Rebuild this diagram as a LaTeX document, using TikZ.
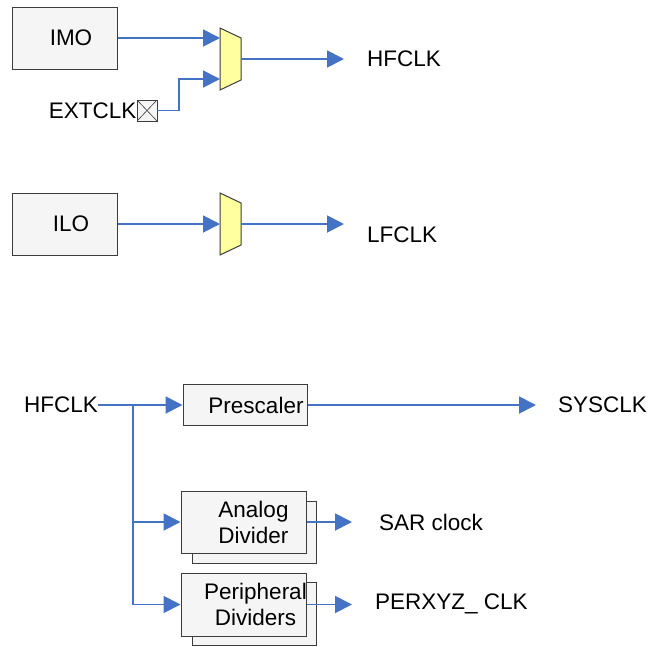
\documentclass[tikz,border=0pt]{standalone}
\usepackage{fontspec}
\setmainfont{Liberation Sans}
\usetikzlibrary{arrows.meta,positioning,calc}
\definecolor{wire}{RGB}{68,114,196}
\definecolor{boxgray}{RGB}{245,245,245}
\definecolor{muxyellow}{RGB}{255,255,160}
\definecolor{edgegray}{RGB}{60,60,60}

% mux symbol: name, centre x, centre y
\newcommand{\Mux}[3]{%
	\coordinate (#1) at (#2,#3);
	\draw[edgegray,fill=muxyellow,line width=1pt]
		($(#1)+(-10.5,-31)$) -- ($(#1)+(10.5,-21)$) -- ($(#1)+(10.5,21)$) -- ($(#1)+(-10.5,31)$) -- cycle;
	\coordinate (#1-out) at ($(#1)+(10.5,0)$);
}

\begin{document}
\begin{tikzpicture}[x=1pt,y=-1pt,% pixel coordinates, y downwards
		every node/.style={
			font=\fontsize{22.5}{26}\selectfont, % same size for every text
			inner sep=0pt
		},
		blk/.style={rectangle,draw=edgegray,fill=boxgray,line width=1pt},
		blktext/.style={align=center},
		wire/.style={draw=wire,line width=1.9pt,-{Triangle[length=17pt,width=17pt]}}
	]
	\useasboundingbox (0,0) rectangle (662,646);

	% clock sources
	\node[blk,minimum width=105pt,minimum height=62pt,label={[blktext,xshift=6.5pt]center:IMO}](IMO) at (64.5,38) {};
	\node[blk,minimum width=105pt,minimum height=62pt,label={[blktext,xshift=6.5pt]center:ILO}](ILO) at (64.5,224) {};
	\node[draw=edgegray,fill=boxgray,line width=0.8pt,minimum width=20pt,minimum height=21pt,
		path picture={\draw[edgegray,line width=0.6pt]
			(path picture bounding box.south west) -- (path picture bounding box.north east)
			(path picture bounding box.north west) -- (path picture bounding box.south east);}](EXTpin) at (147,110.5) {};
	\node(EXT)[left=0pt of EXTpin]{EXTCLK};

	\Mux{mux1}{230.5}{59}
	\Mux{mux2}{230.5}{224}
	\coordinate (mux1-in1) at (220,38);
	\coordinate (mux1-in2) at (220,79);

	\node[anchor=west](HFout) at (367,59) {HFCLK};
	\node[anchor=west](LFout) at (367,235) {LFCLK};

	\draw[wire] (IMO) -- (mux1-in1);
	\draw[wire] (EXTpin.east) -- ++(22,0) |- (mux1-in2);
	\draw[wire,shorten >=23pt] (mux1-out) -- (HFout);
	\draw[wire] (ILO) -- (mux2-out -| {(220,0)});
	\draw[wire,shorten >=23pt] (mux2-out) -- (mux2-out -| LFout.west);

	% clock distribution
	\node[anchor=east](HFin) at (98,405) {HFCLK};
	\coordinate (split) at (133,405);
	\node[blk,minimum width=124pt,minimum height=41pt,label={[blktext,xshift=11pt]center:Prescaler}](Presc) at (245,405) {};
	\node[blk,minimum width=124pt,minimum height=62pt](AnaBack) at (254,532) {};
	\node[blk,minimum width=125pt,minimum height=62pt,label={[blktext,xshift=10pt]center:Analog\\Divider}](AnaDiv) at (243.5,522) {};
	\node[blk,minimum width=124pt,minimum height=63pt](PerBack) at (254,614) {};
	\node[blk,minimum width=125pt,minimum height=63pt,label={[blktext,xshift=12pt]center:Peripheral\\Dividers}](PerDiv) at (243.5,604.5) {};

	\node[anchor=west](SYS) at (558,405) {SYSCLK};
	\node[anchor=west](SAR) at (379,522) {SAR clock};
	\node[anchor=west](PER) at (375,604) {PERXYZ\_ CLK};

	\draw[wire] (HFin) -- (Presc);
	\draw[wire] (split) |- (AnaDiv);
	\draw[wire] (split) |- (PerDiv);
	\draw[wire,shorten >=22pt] (Presc) -- (Presc -| SYS.west);
	\draw[wire,shorten >=27pt] (AnaDiv) -- (AnaDiv -| SAR.west);
	\draw[wire,shorten >=23pt] (PerDiv) -- (PerDiv -| PER.west);
\end{tikzpicture}
\end{document}
